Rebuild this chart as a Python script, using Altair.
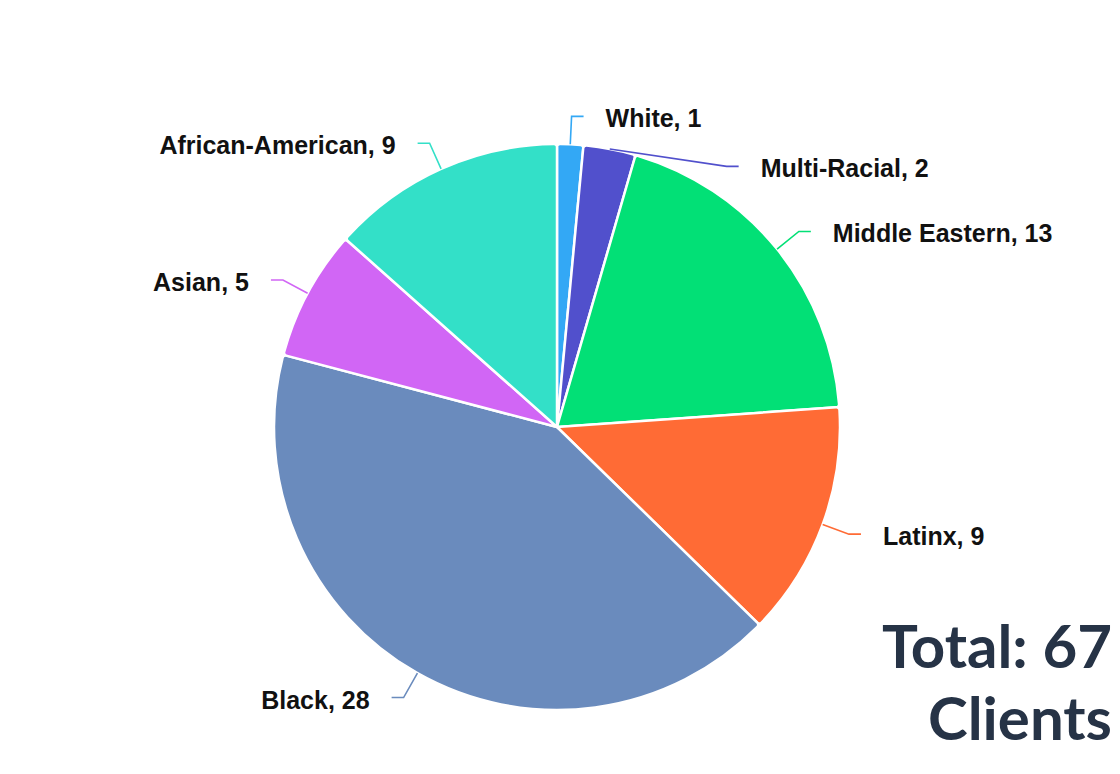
import math
import altair as alt
import pandas as pd

# ---- data ----
categories = ["White", "Multi-Racial", "Middle Eastern", "Latinx", "Black", "Asian", "African-American"]
values = [1, 2, 13, 9, 28, 5, 9]
colors = ["#33a8f5", "#5150cc", "#02e076", "#ff6b35", "#6a8bbd", "#d166f5", "#33e0c8"]
total_label = "Total: {}"
total_sub = "Clients"

# ---- layout ----
W, H = 1104, 758
CX, CY = 549, 419
R = 283
R_ELBOW = 311 / R
H_LEN = 12 / R
GAP = 22 / R
MIN_SEP = 50 / R

total = sum(values)
pie_df = pd.DataFrame({"cat": categories, "value": values, "order": list(range(len(categories)))})

# label geometry derived from the values (units of radius, y up)
info = []
cum = 0
for c, v in zip(categories, values):
    mid = 2 * math.pi * (cum + v / 2) / total
    cum += v
    ex, ey = math.sin(mid), math.cos(mid)
    bx, by = R_ELBOW * math.sin(mid), R_ELBOW * math.cos(mid)
    info.append({"cat": c, "v": v, "ex": ex, "ey": ey, "bx": bx, "by": by, "right": ex >= 0})

for side in (True, False):
    items = sorted([d for d in info if d["right"] == side], key=lambda d: -d["by"])
    prev = None
    for d in items:
        if prev is not None and prev - d["by"] < MIN_SEP:
            d["by"] = prev - MIN_SEP
            xx = math.sqrt(max(R_ELBOW ** 2 - d["by"] ** 2, 0))
            d["bx"] = xx if side else -xx
        prev = d["by"]

line_rows, text_rows = [], []
for d in info:
    s = 1 if d["right"] else -1
    line_rows += [
        {"cat": d["cat"], "i": 0, "x": d["ex"], "y": d["ey"]},
        {"cat": d["cat"], "i": 1, "x": d["bx"], "y": d["by"]},
        {"cat": d["cat"], "i": 2, "x": d["bx"] + s * H_LEN, "y": d["by"]},
    ]
    text_rows.append({"cat": d["cat"], "label": f"{d['cat']}, {d['v']}",
                      "x": d["bx"] + s * (H_LEN + GAP), "y": d["by"],
                      "side": "right" if d["right"] else "left"})
line_df = pd.DataFrame(line_rows)
text_df = pd.DataFrame(text_rows)

color_scale = alt.Scale(domain=categories, range=colors)
xs = alt.Scale(domain=[-CX / R, (W - CX) / R], nice=False, zero=False)
ys = alt.Scale(domain=[-(H - CY) / R, CY / R], nice=False, zero=False)

pie = alt.Chart(pie_df).mark_arc(stroke="white", strokeWidth=2.5, cornerRadius=3).encode(
    theta=alt.Theta("value:Q", stack=True),
    color=alt.Color("cat:N", scale=color_scale, legend=None),
    order=alt.Order("order:Q"),
    x=alt.value(CX), y=alt.value(CY), radius=alt.value(R),
)

lines = alt.Chart(line_df).mark_line(strokeWidth=1.6).encode(
    x=alt.X("x:Q", scale=xs, axis=None),
    y=alt.Y("y:Q", scale=ys, axis=None),
    detail="cat:N",
    order="i:Q",
    color=alt.Color("cat:N", scale=color_scale, legend=None),
)

def labels(side, align):
    return alt.Chart(text_df).transform_filter(alt.datum.side == side).mark_text(
        align=align, baseline="middle", font="Liberation Sans", fontWeight="bold",
        fontSize=25, dy=3, color="#111111",
    ).encode(
        x=alt.X("x:Q", scale=xs, axis=None),
        y=alt.Y("y:Q", scale=ys, axis=None),
        text="label:N",
    )

tot_df = pd.DataFrame({"t": [total_label.format(total)]})
sub_df = pd.DataFrame({"t": [total_sub]})
tot = alt.Chart(tot_df).mark_text(align="right", baseline="alphabetic", font="Lato",
                                  fontWeight="bold", fontSize=60, color="#263346").encode(
    x=alt.value(W), y=alt.value(660), text="t:N")
sub = alt.Chart(sub_df).mark_text(align="right", baseline="alphabetic", font="Lato",
                                  fontWeight="bold", fontSize=60, color="#263346").encode(
    x=alt.value(W), y=alt.value(732), text="t:N")

chart = alt.layer(pie, lines, labels("right", "left"), labels("left", "right"), tot, sub).properties(
    width=W, height=H, autosize=alt.AutoSizeParams(type="none"), padding=0,
).configure_view(stroke=None)

chart.save("out.html", embed_options={"renderer": "svg", "actions": False})
